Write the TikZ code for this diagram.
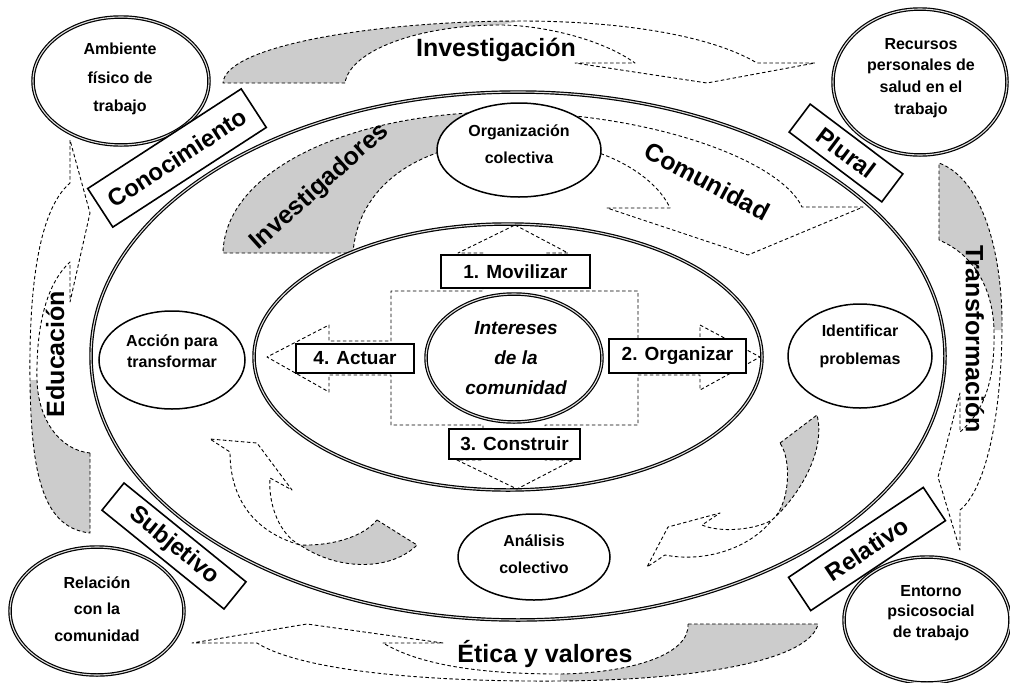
\documentclass[tikz,border=0pt]{standalone}
\usepackage{fontspec}
\setmainfont{Liberation Sans}
\usetikzlibrary{shapes.geometric}
\begin{document}
\begin{tikzpicture}[x=1pt,y=-1pt,
  dsh/.style={draw=black, line width=0.9pt, dash pattern=on 3.5pt off 2.5pt, line join=round},
  gry/.style={fill=gray!40},
  dbl/.style={draw=black, line width=1.2pt, double=gray!25, double distance=1.1pt},
  ell/.style={ellipse, draw=black, line width=1.5pt, fill=white, inner sep=0pt},
  dell/.style={ellipse, dbl, fill=white, inner sep=0pt},
  etxt/.style={align=center, inner sep=0pt, font=\fontsize{16}{#1}\selectfont\bfseries},
  lbl/.style={draw=black, line width=1.6pt, fill=white, inner sep=0pt, font=\fontsize{24}{24}\selectfont\bfseries},
  numbox/.style={draw=black, line width=1.6pt, fill=white, inner sep=0pt, font=\fontsize{19}{19}\selectfont\bfseries},
  big/.style={inner sep=0pt, font=\fontsize{25}{25}\selectfont\bfseries}
]
\fill[white] (0,0) rectangle (1010,683);
\useasboundingbox (0,0) rectangle (1010,683);

% ---------- outer arrows ----------
% Investigacion (top)
\fill[gry] (223,83) .. controls (225,45) and (380,21) .. (520,21) -- (500,25) .. controls (420,25) and (350,50) .. (345,83) -- cycle;
\draw[dsh] (345,83) -- (223,83) .. controls (225,45) and (380,21) .. (520,21) .. controls (620,21) and (710,35) .. (757,63) -- (815,63) -- (707,83) -- (575,63) -- (635,63) .. controls (600,38) and (540,25) .. (500,25) .. controls (420,25) and (350,50) .. (345,83);
% Etica (bottom)
\fill[gry] (818,624) .. controls (810,660) and (700,680) .. (560,681) -- (560,674) .. controls (630,673) and (690,655) .. (688,624) -- cycle;
\draw[dsh] (688,624) -- (818,624) .. controls (810,660) and (700,680) .. (560,681) .. controls (420,682) and (300,670) .. (257,643) -- (192,643) -- (307,624) -- (443,643) -- (383,643) .. controls (420,665) and (480,674) .. (560,674) .. controls (630,673) and (690,655) .. (688,624);
% Educacion (left)
\fill[gry] (30,380) .. controls (31,480) and (45,528) .. (90,533) -- (90,453) .. controls (60,450) and (38,420) .. (37,380) -- cycle;
\draw[dsh] (90,453) -- (90,533) .. controls (45,528) and (31,480) .. (30,380) .. controls (29,300) and (36,212) .. (70,183) -- (70,140) -- (90,213) -- (70,302) -- (70,262) .. controls (45,285) and (36,330) .. (37,380) .. controls (38,420) and (60,450) .. (90,453);
% Transformacion (right)
\fill[gry] (939,163) .. controls (985,180) and (1003,260) .. (1002,330) -- (994,330) .. controls (993,290) and (975,255) .. (939,240) -- cycle;
\draw[dsh] (939,240) -- (939,163) .. controls (985,180) and (1003,260) .. (1002,330) .. controls (1001,420) and (985,490) .. (960,510) -- (960,550) -- (938,477) -- (960,393) -- (960,432) .. controls (985,410) and (995,380) .. (994,330) .. controls (993,290) and (975,255) .. (939,240);

% ---------- outer ellipse ----------
\node[dell, fill=none, minimum width=854pt, minimum height=528pt] (outer) at (518,356) {};

% ---------- middle ring arrows ----------
% Investigadores -> Comunidad
\fill[gry] (223,253) .. controls (225,170) and (350,113) .. (500,112) -- (520,140) .. controls (420,140) and (358,185) .. (353,253) -- cycle;
\draw[dsh] (353,253) -- (223,253) .. controls (225,170) and (350,113) .. (500,112) .. controls (650,112) and (780,160) .. (802,207) -- (863,207) -- (748,255) -- (607,208) -- (670,208) .. controls (655,175) and (600,140) .. (520,140) .. controls (420,140) and (358,185) .. (353,253);
% bottom-left arrow
\fill[gry] (300,545) .. controls (340,572) and (392,570) .. (417,545) -- (377,520) .. controls (362,538) and (330,546) .. (300,545) -- cycle;
\draw[dsh] (377,520) -- (417,545) .. controls (392,570) and (340,572) .. (300,545) .. controls (255,532) and (230,500) .. (230,452) -- (210,439) -- (257,443) -- (292,490) -- (270,478) .. controls (268,505) and (280,535) .. (300,545) .. controls (330,546) and (362,538) .. (377,520);
% bottom-right arrow
\fill[gry] (772,520) .. controls (790,505) and (792,460) .. (780,443) -- (817,415) .. controls (826,450) and (800,495) .. (772,520) -- cycle;
\draw[dsh] (780,443) -- (817,415) .. controls (826,450) and (800,495) .. (772,520) .. controls (750,548) and (705,563) .. (665,555) -- (647,567) -- (668,527) -- (720,513) -- (702,525) .. controls (720,533) and (755,530) .. (772,520) .. controls (790,505) and (792,460) .. (780,443);

% ---------- middle ring ellipses ----------
\node[ell, minimum width=164pt, minimum height=94pt] (org) at (519,150) {};
\node[etxt=27] (orgT) at (519,144) {Organización\\colectiva};
\node[ell, minimum width=146pt, minimum height=98pt] (acc) at (172,360) {};
\node[etxt=21] (accT) at (172,351) {Acción para\\transformar};
\node[ell, minimum width=144pt, minimum height=104pt] (ide) at (860,356) {};
\node[etxt=28] (ideT) at (860,346) {Identificar\\problemas};
\node[ell, minimum width=152pt, minimum height=86pt] (ana) at (534,557) {};
\node[etxt=27] (anaT) at (534,554) {Análisis\\colectivo};

% ---------- inner ellipse ----------
\node[dell, fill=none, minimum width=508pt, minimum height=266pt] (inner) at (508,357) {};

% ---------- cross ----------
\draw[dsh] (515,225) -- (568,253) -- (545,253) -- (545,291) -- (638,291) -- (638,341) -- (700,341) -- (700,325) -- (760,357) -- (700,390) -- (700,375) -- (638,375) -- (638,425) -- (545,425) -- (545,460) -- (573,460) -- (517,489) -- (457,460) -- (483,460) -- (483,425) -- (391,425) -- (391,375) -- (329,375) -- (329,392) -- (267,357) -- (329,325) -- (329,341) -- (391,341) -- (391,291) -- (483,291) -- (483,253) -- (458,253) -- cycle;

\node[dell, minimum width=176pt, minimum height=128pt] (int) at (514,358) {};
\node[align=center, inner sep=0pt, font=\fontsize{19}{30}\selectfont\bfseries\itshape] (intT) at (516,358) {Intereses\\de la\\comunidad};

\node[numbox, minimum width=149pt, minimum height=33pt] (mov) at (515.5,271.5) {1. Movilizar};
\node[numbox, minimum width=137pt, minimum height=34pt] (orgz) at (677.5,356) {2. Organizar};
\node[numbox, minimum width=131pt, minimum height=30pt] (cons) at (514.5,444) {3. Construir};
\node[numbox, minimum width=118pt, minimum height=29pt] (act) at (355,358.5) {4. Actuar};

% ---------- corner ellipses ----------
\node[dell, minimum width=176pt, minimum height=128pt] (amb) at (121,81) {};
\node[etxt=28.5] (ambT) at (120,79) {Ambiente\\físico de\\trabajo};
\node[dell, minimum width=174pt, minimum height=146pt] (rec) at (920,82) {};
\node[etxt=21.7] (recT) at (921,78) {Recursos\\personales de\\salud en el\\trabajo};
\node[dell, minimum width=174pt, minimum height=128pt] (relc) at (97,611) {};
\node[etxt=26.5] (relcT) at (97,609) {Relación\\con la\\comunidad};
\node[dell, minimum width=166pt, minimum height=126pt] (ent) at (927,620) {};
\node[etxt=20.5] (entT) at (931,613) {Entorno\\psicosocial\\de trabajo};

% ---------- rotated labels ----------
\node[lbl, rotate=33, minimum width=183pt, minimum height=46pt] (cono) at (177,158) {Conocimiento};
\node[lbl, rotate=-37, minimum width=116pt, minimum height=35pt] (plur) at (846,153) {Plural};
\node[lbl, rotate=-39, minimum width=157pt, minimum height=35pt] (subj) at (174,546) {Subjetivo};
\node[lbl, rotate=33.7, minimum width=162pt, minimum height=40pt] (relt) at (867,549) {Relativo};

% ---------- big texts ----------
\node[big, anchor=base] (tInv) at (496,56) {Investigación};
\node[big, anchor=base] (tEt) at (545,662) {Ética y valores};
\node[big, rotate=-28] (tCom) at (707,181) {Comunidad};
\node[big, rotate=42] (tIvd) at (320,187) {Investigadores};
\node[big, rotate=90] (tEdu) at (55,354) {Educación};
\node[big, rotate=-90] (tTra) at (975,339) {Transformación};
\end{tikzpicture}
\end{document}
